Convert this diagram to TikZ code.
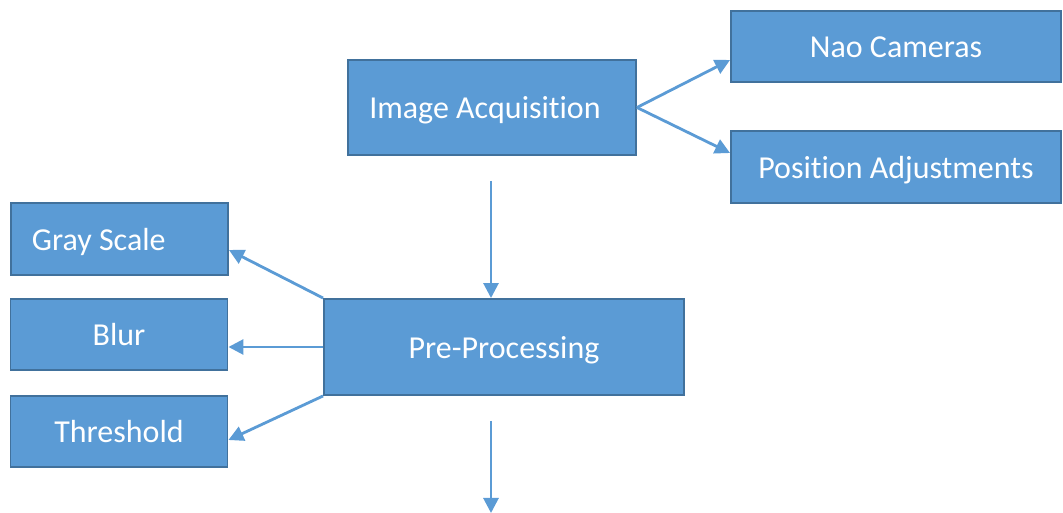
\documentclass[tikz,border=0pt]{standalone}
\usepackage{fontspec}
\setmainfont{Carlito}[Ligatures={NoCommon,NoContextual}]
\usetikzlibrary{arrows.meta,positioning,calc}
\definecolor{boxfill}{HTML}{5B9BD5}
\definecolor{boxline}{HTML}{41719C}
\tikzset{
  stagebox/.style={draw=boxline, line width=1.1pt, fill=boxfill, inner sep=4pt,
                   align=center, text=white, text height=0.55cm, text depth=0.1cm,
                   font=\fontsize{18.2}{21}\selectfont},
  sidebox/.style={stagebox, minimum width=4.34cm, minimum height=1.43cm},
  arr/.style={-{Triangle[length=0.3cm, width=0.3cm]}, line width=1.6pt, color=boxfill}}

\begin{document}
\begin{tikzpicture}
    \useasboundingbox (0,0) rectangle (21.26,-10.26);
    \node[stagebox, minimum width=5.76cm, minimum height=1.9cm] (acq) at (9.84,-2.15)
      {Image Acquisition\hspace{0.28cm}};
    \node[stagebox, minimum width=6.6cm, minimum height=1.42cm] (nao) at (17.92,-0.93)
      {Nao Cameras};
    \node[stagebox, minimum width=6.6cm, minimum height=1.44cm] (pos) at (17.92,-3.34)
      {Position Adjustments};
    \node[stagebox, minimum width=7.2cm, minimum height=1.92cm] (pre) at (10.08,-6.94)
      {Pre-Processing};
    \node[sidebox] (gray) at (2.39,-4.78) {Gray Scale\hspace{0.83cm}};
    \node[sidebox] (blur) at (2.38,-6.69) {Blur};
    \node[sidebox] (thr) at (2.38,-8.63) {Threshold};
    \coordinate (next) at (9.82,-10.26);
    % acquisition feeds the camera set-up
    \draw[arr] (acq.east) -- ([yshift=-0.27cm]nao.west);
    \draw[arr] (acq.east) -- ([yshift=0.28cm]pos.west);
    \draw[arr] ([yshift=-0.5cm]acq.south -| next) -- (pre.north -| next);
    % pre-processing steps
    \draw[arr] (pre.north west) -- ([yshift=-0.22cm]gray.east);
    \draw[arr] (pre.west) -- (blur.east |- pre.west);
    \draw[arr] (pre.south west) -- ([yshift=-0.17cm]thr.east);
    \draw[arr] ([yshift=-0.5cm]pre.south -| next) -- (next);
  \end{tikzpicture}
\end{document}
